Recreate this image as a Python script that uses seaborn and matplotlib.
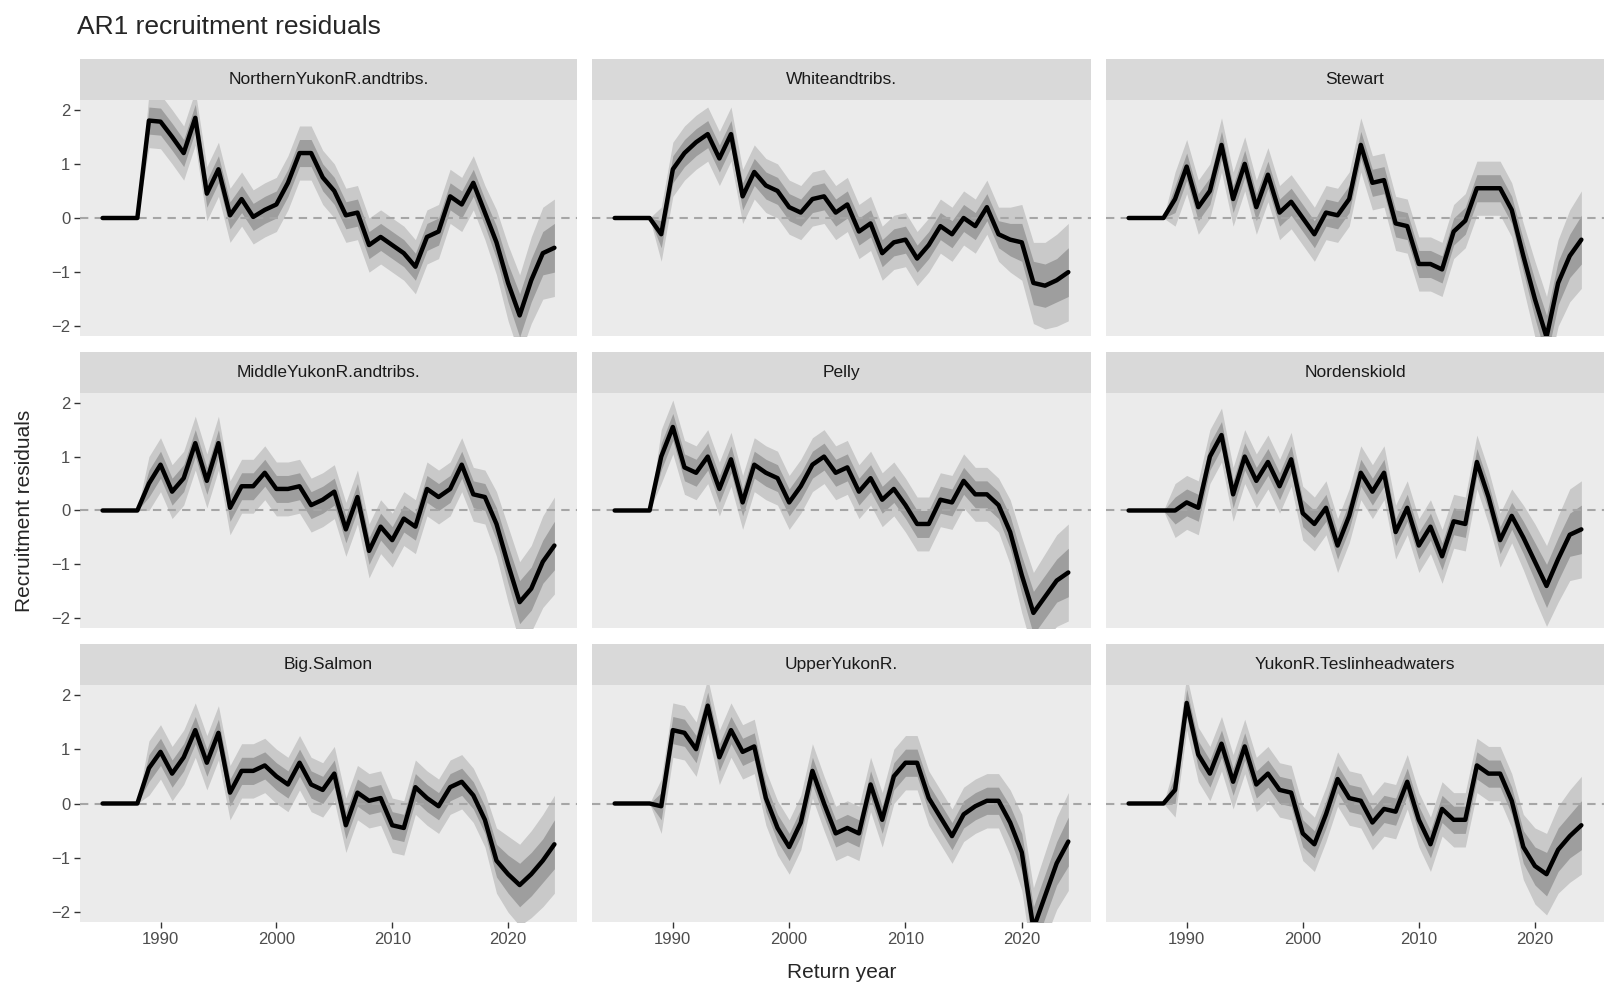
"""
AR1 recruitment residuals by population, faceted grid.
"""

import numpy as np
import pandas as pd
import matplotlib
matplotlib.use("Agg")
import matplotlib.pyplot as plt
from matplotlib.patches import Rectangle
import seaborn as sns

years = list(range(1985, 2025))

populations = [
    "NorthernYukonR.andtribs.", "Whiteandtribs.", "Stewart",
    "MiddleYukonR.andtribs.", "Pelly", "Nordenskiold",
    "Big.Salmon", "UpperYukonR.", "YukonR.Teslinheadwaters",
]

northern = [0, 0, 0, 0, 1.8, 1.78, 1.5, 1.2, 1.85, 0.45, 0.9, 0.05, 0.35, 0.02, 0.15, 0.25,
            0.65, 1.2, 1.2, 0.75, 0.5, 0.05, 0.1, -0.5, -0.35, -0.5, -0.65, -0.9, -0.35, -0.25,
            0.4, 0.25, 0.65, 0.1, -0.45, -1.2, -1.8, -1.15, -0.65, -0.55]
white = [0, 0, 0, 0, -0.3, 0.9, 1.2, 1.4, 1.55, 1.1, 1.55, 0.4, 0.85, 0.6, 0.5, 0.2,
         0.1, 0.35, 0.4, 0.1, 0.25, -0.25, -0.1, -0.65, -0.45, -0.4, -0.75, -0.5, -0.15, -0.3,
         0.0, -0.15, 0.2, -0.3, -0.4, -0.45, -1.2, -1.25, -1.15, -1.0]
stewart = [0, 0, 0, 0, 0.35, 0.95, 0.2, 0.5, 1.35, 0.35, 1.0, 0.2, 0.8, 0.1, 0.3, 0.0,
           -0.3, 0.1, 0.05, 0.35, 1.35, 0.65, 0.7, -0.1, -0.15, -0.85, -0.85, -0.95, -0.25, -0.05,
           0.55, 0.55, 0.55, 0.15, -0.7, -1.5, -2.2, -1.2, -0.7, -0.4]
middle = [0, 0, 0, 0, 0.5, 0.85, 0.35, 0.6, 1.25, 0.55, 1.25, 0.05, 0.45, 0.45, 0.7, 0.4,
          0.4, 0.45, 0.1, 0.2, 0.35, -0.35, 0.25, -0.75, -0.3, -0.55, -0.15, -0.3, 0.4, 0.25,
          0.4, 0.85, 0.3, 0.25, -0.25, -1.0, -1.7, -1.45, -0.95, -0.65]
pelly = [0, 0, 0, 0, 1.0, 1.55, 0.8, 0.7, 1.0, 0.4, 0.95, 0.15, 0.85, 0.7, 0.6, 0.15,
         0.45, 0.85, 1.0, 0.7, 0.8, 0.35, 0.6, 0.2, 0.4, 0.1, -0.25, -0.25, 0.2, 0.15,
         0.55, 0.3, 0.3, 0.1, -0.4, -1.2, -1.9, -1.6, -1.3, -1.15]
nordenskiold = [0, 0, 0, 0, 0, 0.15, 0.05, 1.0, 1.4, 0.3, 1.0, 0.55, 0.9, 0.45, 0.95, -0.05,
                -0.25, 0.05, -0.65, -0.1, 0.7, 0.35, 0.7, -0.4, 0.05, -0.65, -0.3, -0.85, -0.2, -0.25,
                0.9, 0.25, -0.55, -0.1, -0.5, -0.95, -1.4, -0.9, -0.45, -0.35]
big_salmon = [0, 0, 0, 0, 0.65, 0.95, 0.55, 0.85, 1.35, 0.75, 1.3, 0.2, 0.6, 0.6, 0.7, 0.5,
              0.35, 0.75, 0.35, 0.25, 0.55, -0.4, 0.2, 0.05, 0.1, -0.4, -0.45, 0.3, 0.1, -0.05,
              0.3, 0.4, 0.15, -0.3, -1.05, -1.3, -1.5, -1.3, -1.05, -0.75]
upper = [0, 0, 0, 0, -0.05, 1.35, 1.3, 1.0, 1.8, 0.85, 1.35, 0.95, 1.05, 0.1, -0.45, -0.8,
         -0.35, 0.6, 0.0, -0.55, -0.45, -0.55, 0.35, -0.3, 0.5, 0.75, 0.75, 0.1, -0.25, -0.6,
         -0.2, -0.05, 0.05, 0.05, -0.35, -0.9, -2.3, -1.7, -1.1, -0.7]
teslin = [0, 0, 0, 0, 0.25, 1.85, 0.9, 0.55, 1.1, 0.4, 1.05, 0.35, 0.55, 0.25, 0.2, -0.55,
          -0.75, -0.2, 0.45, 0.1, 0.05, -0.35, -0.1, -0.15, 0.4, -0.3, -0.75, -0.1, -0.3, -0.3,
          0.7, 0.55, 0.55, 0.05, -0.8, -1.15, -1.3, -0.85, -0.6, -0.4]

series = [northern, white, stewart, middle, pelly, nordenskiold, big_salmon, upper, teslin]

# half widths of the 50% and 95% bands, by year
inner_hw = [0.0] * 4 + [0.25] * 30 + [0.3, 0.35, 0.4, 0.4, 0.4, 0.45]
outer_hw = [0.0] * 4 + [0.5] * 30 + [0.6, 0.7, 0.75, 0.8, 0.85, 0.9]

rows = []
for name, vals in zip(populations, series):
    for y, v, a, b in zip(years, vals, inner_hw, outer_hw):
        rows.append({"pop": name, "year": y, "resid": v,
                     "lo50": v - a, "hi50": v + a, "lo95": v - b, "hi95": v + b})
df = pd.DataFrame(rows)

sns.set_theme(style="white")
plt.rcParams["font.family"] = ["Liberation Sans", "DejaVu Sans"]

W, H = 1620, 1001
fig = plt.figure(figsize=(W / 100, H / 100), dpi=100)

col_x = [(80, 577), (592, 1091), (1106, 1604)]
row_y = [(100, 336), (393, 628), (685, 922)]
strip_h = 41

span = years[-1] - years[0]
xlim = (years[0] - 0.05 * span, years[-1] + 0.05 * span)

for i, name in enumerate(populations):
    r, c = divmod(i, 3)
    x0, x1 = col_x[c]
    y0, y1 = row_y[r]
    ax = fig.add_axes([x0 / W, 1 - y1 / H, (x1 - x0) / W, (y1 - y0) / H])
    ax.set_facecolor("#EBEBEB")
    d = df[df["pop"] == name]
    ax.fill_between(d["year"], d["lo95"], d["hi95"], color="#C9C9C9", lw=0)
    ax.fill_between(d["year"], d["lo50"], d["hi50"], color="#9E9E9E", lw=0)
    ax.axhline(0, color="#A6A6A6", ls=(0, (4, 3)), lw=1.5, zorder=3)
    sns.lineplot(data=d, x="year", y="resid", color="black", lw=3.2, ax=ax, zorder=4)
    ax.set_xlim(*xlim)
    ax.set_ylim(-2.18, 2.18)
    ax.set_xticks([1990, 2000, 2010, 2020])
    ax.set_yticks([-2, -1, 0, 1, 2])
    ax.set_xlabel("")
    ax.set_ylabel("")
    for s in ax.spines.values():
        s.set_visible(False)
    ax.tick_params(length=4, width=1, color="#333333", labelsize=12, labelcolor="#4D4D4D",
                   left=(c == 0), bottom=(r == 2), pad=3)
    if c != 0:
        ax.set_yticklabels([])
    if r != 2:
        ax.set_xticklabels([])
    ax.add_patch(Rectangle((0, 1), 1, strip_h / (y1 - y0), transform=ax.transAxes,
                           color="#D9D9D9", clip_on=False, lw=0))
    ax.text(0.5, 1 + strip_h / 2 / (y1 - y0), name, transform=ax.transAxes,
            ha="center", va="center", fontsize=12.5, color="#1A1A1A")

fig.text(77 / W, 1 - 27 / H, "AR1 recruitment residuals", fontsize=19, va="center", ha="left")
fig.text(25 / W, 1 - 511 / H, "Recruitment residuals", fontsize=15, rotation=90,
         va="center", ha="center")
fig.text(842 / W, 1 - 973 / H, "Return year", fontsize=15, va="center", ha="center")

fig.savefig("out.png", dpi=100, facecolor="white")
